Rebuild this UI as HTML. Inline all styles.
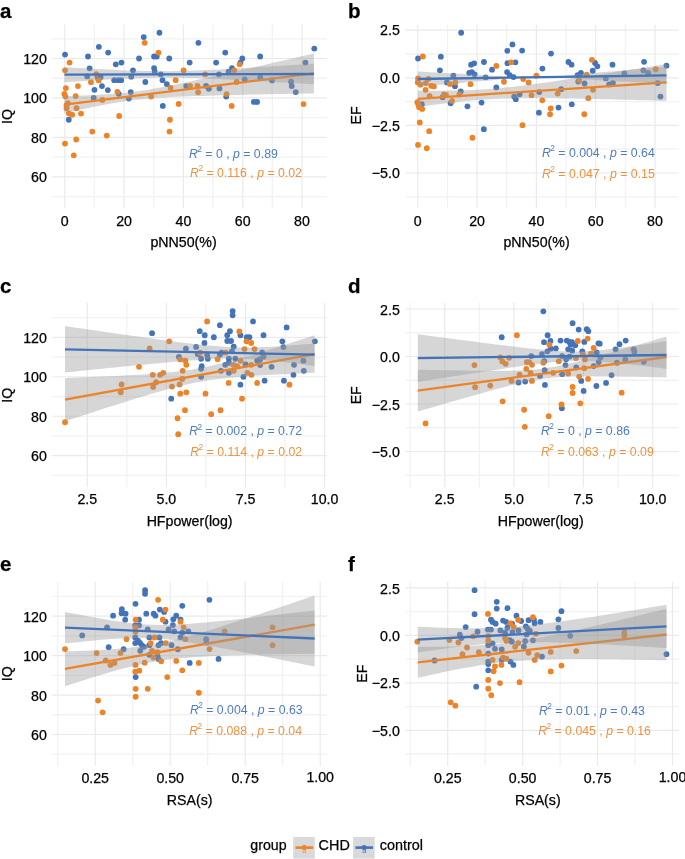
<!DOCTYPE html><html><head><meta charset="utf-8"><style>html,body{margin:0;padding:0;background:#fff;}svg{display:block;will-change:transform;}text{font-family:"Liberation Sans", sans-serif;stroke:#000;stroke-width:0.25px;}</style></head><body>
<svg width="685" height="859" viewBox="0 0 685 859">
<rect width="685" height="859" fill="#fff"/>
<line x1="52.30" x2="327.00" y1="196.60" y2="196.60" class="gm"/><line x1="52.30" x2="327.00" y1="157.15" y2="157.15" class="gm"/><line x1="52.30" x2="327.00" y1="117.70" y2="117.70" class="gm"/><line x1="52.30" x2="327.00" y1="78.25" y2="78.25" class="gm"/><line x1="52.30" x2="327.00" y1="38.80" y2="38.80" class="gm"/><line x1="94.45" x2="94.45" y1="24.50" y2="208.60" class="gm"/><line x1="153.75" x2="153.75" y1="24.50" y2="208.60" class="gm"/><line x1="213.05" x2="213.05" y1="24.50" y2="208.60" class="gm"/><line x1="272.35" x2="272.35" y1="24.50" y2="208.60" class="gm"/><line x1="52.30" x2="327.00" y1="176.88" y2="176.88" class="gM"/><line x1="52.30" x2="327.00" y1="137.43" y2="137.43" class="gM"/><line x1="52.30" x2="327.00" y1="97.97" y2="97.97" class="gM"/><line x1="52.30" x2="327.00" y1="58.52" y2="58.52" class="gM"/><line x1="64.80" x2="64.80" y1="24.50" y2="208.60" class="gM"/><line x1="124.10" x2="124.10" y1="24.50" y2="208.60" class="gM"/><line x1="183.40" x2="183.40" y1="24.50" y2="208.60" class="gM"/><line x1="242.70" x2="242.70" y1="24.50" y2="208.60" class="gM"/><line x1="302.00" x2="302.00" y1="24.50" y2="208.60" class="gM"/>
<text x="46.80" y="181.97" font-size="14.2" text-anchor="end">60</text>
<text x="46.80" y="142.53" font-size="14.2" text-anchor="end">80</text>
<text x="46.80" y="103.07" font-size="14.2" text-anchor="end">100</text>
<text x="46.80" y="63.62" font-size="14.2" text-anchor="end">120</text>
<text x="64.80" y="225.70" font-size="14.2" text-anchor="middle">0</text>
<text x="124.10" y="225.70" font-size="14.2" text-anchor="middle">20</text>
<text x="183.40" y="225.70" font-size="14.2" text-anchor="middle">40</text>
<text x="242.70" y="225.70" font-size="14.2" text-anchor="middle">60</text>
<text x="302.00" y="225.70" font-size="14.2" text-anchor="middle">80</text>
<text x="183.50" y="247.30" font-size="14.2" text-anchor="middle">pNN50(%)</text>
<text transform="translate(12.30,116.55) rotate(-90)" font-size="14.2" text-anchor="middle">IQ</text>
<text x="0.10" y="17.70" font-size="20.5" font-weight="bold">a</text>
<circle cx="65.03" cy="54.62" r="2.9" fill="#4373b9"/>
<circle cx="87.99" cy="56.5" r="2.9" fill="#4373b9"/>
<circle cx="98.87" cy="46.83" r="2.9" fill="#4373b9"/>
<circle cx="108.14" cy="52.61" r="2.9" fill="#4373b9"/>
<circle cx="115.8" cy="64.29" r="2.9" fill="#4373b9"/>
<circle cx="121.44" cy="62.55" r="2.9" fill="#4373b9"/>
<circle cx="139.03" cy="58.52" r="2.9" fill="#4373b9"/>
<circle cx="143.73" cy="37.03" r="2.9" fill="#4373b9"/>
<circle cx="89.61" cy="68.32" r="2.9" fill="#4373b9"/>
<circle cx="132.99" cy="70.34" r="2.9" fill="#4373b9"/>
<circle cx="87.19" cy="76.38" r="2.9" fill="#4373b9"/>
<circle cx="97.66" cy="76.65" r="2.9" fill="#4373b9"/>
<circle cx="100.62" cy="77.05" r="2.9" fill="#4373b9"/>
<circle cx="98.34" cy="79.07" r="2.9" fill="#4373b9"/>
<circle cx="114.18" cy="80.14" r="2.9" fill="#4373b9"/>
<circle cx="118.21" cy="80.14" r="2.9" fill="#4373b9"/>
<circle cx="121.17" cy="80.14" r="2.9" fill="#4373b9"/>
<circle cx="131.24" cy="76.65" r="2.9" fill="#4373b9"/>
<circle cx="101.96" cy="86.05" r="2.9" fill="#4373b9"/>
<circle cx="94.44" cy="89.81" r="2.9" fill="#4373b9"/>
<circle cx="107.87" cy="90.08" r="2.9" fill="#4373b9"/>
<circle cx="118.75" cy="93.84" r="2.9" fill="#4373b9"/>
<circle cx="130.7" cy="92.09" r="2.9" fill="#4373b9"/>
<circle cx="93.64" cy="97.87" r="2.9" fill="#4373b9"/>
<circle cx="128.82" cy="98.54" r="2.9" fill="#4373b9"/>
<circle cx="69.59" cy="62.55" r="2.9" fill="#ee8325"/>
<circle cx="65.03" cy="70.34" r="2.9" fill="#ee8325"/>
<circle cx="96.32" cy="74.1" r="2.9" fill="#ee8325"/>
<circle cx="98.74" cy="80.41" r="2.9" fill="#ee8325"/>
<circle cx="90.95" cy="82.15" r="2.9" fill="#ee8325"/>
<circle cx="77.92" cy="86.05" r="2.9" fill="#ee8325"/>
<circle cx="65.83" cy="88.06" r="2.9" fill="#ee8325"/>
<circle cx="64.36" cy="93.84" r="2.9" fill="#ee8325"/>
<circle cx="65.43" cy="96.53" r="2.9" fill="#ee8325"/>
<circle cx="75.64" cy="96.12" r="2.9" fill="#ee8325"/>
<circle cx="117.41" cy="91.82" r="2.9" fill="#ee8325"/>
<circle cx="102.36" cy="99.88" r="2.9" fill="#ee8325"/>
<circle cx="67.85" cy="103.24" r="2.9" fill="#ee8325"/>
<circle cx="66.51" cy="105.26" r="2.9" fill="#ee8325"/>
<circle cx="66.51" cy="108.21" r="2.9" fill="#ee8325"/>
<circle cx="76.58" cy="108.21" r="2.9" fill="#ee8325"/>
<circle cx="68.79" cy="113.31" r="2.9" fill="#ee8325"/>
<circle cx="72.15" cy="114.66" r="2.9" fill="#ee8325"/>
<circle cx="81.01" cy="113.58" r="2.9" fill="#ee8325"/>
<circle cx="159.45" cy="32.73" r="2.9" fill="#4373b9"/>
<circle cx="198.39" cy="42.8" r="2.9" fill="#4373b9"/>
<circle cx="225.26" cy="52.61" r="2.9" fill="#4373b9"/>
<circle cx="154.07" cy="56.5" r="2.9" fill="#4373b9"/>
<circle cx="156.76" cy="56.5" r="2.9" fill="#4373b9"/>
<circle cx="169.25" cy="58.52" r="2.9" fill="#4373b9"/>
<circle cx="189.66" cy="62.55" r="2.9" fill="#4373b9"/>
<circle cx="216.12" cy="62.55" r="2.9" fill="#4373b9"/>
<circle cx="154.07" cy="68.05" r="2.9" fill="#4373b9"/>
<circle cx="154.74" cy="71.68" r="2.9" fill="#4373b9"/>
<circle cx="160.79" cy="74.36" r="2.9" fill="#4373b9"/>
<circle cx="231.97" cy="68.05" r="2.9" fill="#4373b9"/>
<circle cx="228.61" cy="71.68" r="2.9" fill="#4373b9"/>
<circle cx="218.94" cy="74.36" r="2.9" fill="#4373b9"/>
<circle cx="145.34" cy="82.02" r="2.9" fill="#4373b9"/>
<circle cx="162.53" cy="80.14" r="2.9" fill="#4373b9"/>
<circle cx="166.83" cy="84.04" r="2.9" fill="#4373b9"/>
<circle cx="186.31" cy="86.05" r="2.9" fill="#4373b9"/>
<circle cx="206.05" cy="85.78" r="2.9" fill="#4373b9"/>
<circle cx="208.87" cy="88.74" r="2.9" fill="#4373b9"/>
<circle cx="219.48" cy="88.47" r="2.9" fill="#4373b9"/>
<circle cx="226.2" cy="96.53" r="2.9" fill="#4373b9"/>
<circle cx="162.8" cy="105.93" r="2.9" fill="#4373b9"/>
<circle cx="144.67" cy="42.8" r="2.9" fill="#ee8325"/>
<circle cx="158.51" cy="52.61" r="2.9" fill="#ee8325"/>
<circle cx="183.62" cy="70.34" r="2.9" fill="#ee8325"/>
<circle cx="205.11" cy="74.36" r="2.9" fill="#ee8325"/>
<circle cx="175.7" cy="80.14" r="2.9" fill="#ee8325"/>
<circle cx="170.59" cy="87.8" r="2.9" fill="#ee8325"/>
<circle cx="190.07" cy="85.78" r="2.9" fill="#ee8325"/>
<circle cx="197.45" cy="85.78" r="2.9" fill="#ee8325"/>
<circle cx="198.13" cy="92.23" r="2.9" fill="#ee8325"/>
<circle cx="226.6" cy="94.11" r="2.9" fill="#ee8325"/>
<circle cx="234.25" cy="70.34" r="2.9" fill="#ee8325"/>
<circle cx="151.12" cy="96.53" r="2.9" fill="#ee8325"/>
<circle cx="178.65" cy="103.91" r="2.9" fill="#ee8325"/>
<circle cx="231.7" cy="105.93" r="2.9" fill="#ee8325"/>
<circle cx="314.3" cy="48.58" r="2.9" fill="#4373b9"/>
<circle cx="260.18" cy="56.5" r="2.9" fill="#4373b9"/>
<circle cx="242.31" cy="58.52" r="2.9" fill="#4373b9"/>
<circle cx="240.43" cy="62.55" r="2.9" fill="#4373b9"/>
<circle cx="305.44" cy="62.55" r="2.9" fill="#4373b9"/>
<circle cx="244.73" cy="79.47" r="2.9" fill="#4373b9"/>
<circle cx="260.18" cy="77.45" r="2.9" fill="#4373b9"/>
<circle cx="271.99" cy="80.41" r="2.9" fill="#4373b9"/>
<circle cx="291.07" cy="81.75" r="2.9" fill="#4373b9"/>
<circle cx="291.74" cy="86.05" r="2.9" fill="#4373b9"/>
<circle cx="295.77" cy="92.09" r="2.9" fill="#4373b9"/>
<circle cx="253.86" cy="101.9" r="2.9" fill="#4373b9"/>
<circle cx="257.09" cy="101.9" r="2.9" fill="#4373b9"/>
<circle cx="239.63" cy="64.29" r="2.9" fill="#ee8325"/>
<circle cx="303.56" cy="104.05" r="2.9" fill="#ee8325"/>
<circle cx="236.67" cy="82.02" r="2.9" fill="#ee8325"/>
<circle cx="68.79" cy="119.76" r="2.9" fill="#4373b9"/>
<circle cx="119.15" cy="116.0" r="2.9" fill="#ee8325"/>
<circle cx="92.29" cy="131.58" r="2.9" fill="#ee8325"/>
<circle cx="106.8" cy="135.61" r="2.9" fill="#ee8325"/>
<circle cx="76.18" cy="139.5" r="2.9" fill="#ee8325"/>
<circle cx="65.03" cy="143.53" r="2.9" fill="#ee8325"/>
<circle cx="73.76" cy="155.35" r="2.9" fill="#ee8325"/>
<circle cx="169.92" cy="119.76" r="2.9" fill="#ee8325"/>
<circle cx="169.52" cy="131.58" r="2.9" fill="#ee8325"/>
<polygon points="64.50,96.14 70.73,95.94 76.97,95.72 83.20,95.49 89.44,95.23 95.67,94.94 101.91,94.61 108.14,94.23 114.38,93.79 120.61,93.26 126.85,92.65 133.08,91.92 139.32,91.09 145.56,90.15 151.79,89.11 158.02,88.00 164.26,86.82 170.49,85.59 176.73,84.32 182.96,83.02 189.20,81.69 195.44,80.35 201.67,78.99 207.91,77.61 214.14,76.23 220.37,74.84 226.61,73.44 232.84,72.03 239.08,70.62 245.31,69.20 251.55,67.78 257.78,66.36 264.02,64.94 270.25,63.51 276.49,62.08 282.73,60.65 288.96,59.22 295.19,57.78 301.43,56.35 307.66,54.91 313.90,53.47 313.90,93.33 307.66,93.45 301.43,93.57 295.19,93.70 288.96,93.82 282.73,93.95 276.49,94.08 270.25,94.21 264.02,94.34 257.78,94.48 251.55,94.62 245.31,94.76 239.08,94.90 232.84,95.05 226.61,95.20 220.37,95.36 214.14,95.53 207.91,95.71 201.67,95.89 195.44,96.09 189.20,96.31 182.96,96.54 176.73,96.80 170.49,97.09 164.26,97.42 158.02,97.80 151.79,98.25 145.56,98.77 139.32,99.39 133.08,100.12 126.85,100.95 120.61,101.90 114.38,102.93 108.14,104.05 101.91,105.23 95.67,106.46 89.44,107.73 83.20,109.03 76.97,110.36 70.73,111.70 64.50,113.06" fill="#999999" fill-opacity="0.4"/>
<line x1="64.5" y1="104.6" x2="313.9" y2="73.4" stroke="#ee8325" stroke-width="2.3"/>
<polygon points="64.50,67.25 70.73,67.60 76.97,67.95 83.20,68.29 89.44,68.63 95.67,68.96 101.91,69.27 108.14,69.58 114.38,69.87 120.61,70.14 126.85,70.39 133.08,70.62 139.32,70.82 145.56,70.98 151.79,71.10 158.02,71.17 164.26,71.19 170.49,71.16 176.73,71.07 182.96,70.94 189.20,70.76 195.44,70.55 201.67,70.30 207.91,70.02 214.14,69.72 220.37,69.41 226.61,69.07 232.84,68.72 239.08,68.37 245.31,68.00 251.55,67.63 257.78,67.25 264.02,66.86 270.25,66.47 276.49,66.08 282.73,65.68 288.96,65.28 295.19,64.87 301.43,64.47 307.66,64.06 313.90,63.65 313.90,84.35 307.66,83.98 301.43,83.60 295.19,83.23 288.96,82.86 282.73,82.50 276.49,82.13 270.25,81.77 264.02,81.42 257.78,81.07 251.55,80.72 245.31,80.38 239.08,80.05 232.84,79.73 226.61,79.42 220.37,79.12 214.14,78.84 207.91,78.57 201.67,78.33 195.44,78.12 189.20,77.94 182.96,77.79 176.73,77.70 170.49,77.65 164.26,77.65 158.02,77.71 151.79,77.81 145.56,77.97 139.32,78.16 133.08,78.39 126.85,78.66 120.61,78.94 114.38,79.25 108.14,79.58 101.91,79.92 95.67,80.27 89.44,80.63 83.20,81.00 76.97,81.38 70.73,81.76 64.50,82.15" fill="#999999" fill-opacity="0.4"/>
<line x1="64.5" y1="74.7" x2="313.9" y2="74.0" stroke="#4373b9" stroke-width="2.3"/>
<text x="189.0" y="157.7" font-size="12.3" class="cb"><tspan font-style="italic">R</tspan><tspan font-size="8.3" dx="-0.6" dy="-5.6">2</tspan><tspan dy="5.6"> = 0 , </tspan><tspan font-style="italic">p</tspan> = 0.89</text>
<text x="190.1" y="176.9" font-size="12.3" class="co"><tspan font-style="italic">R</tspan><tspan font-size="8.3" dx="-0.6" dy="-5.6">2</tspan><tspan dy="5.6"> = 0.116 , </tspan><tspan font-style="italic">p</tspan> = 0.02</text>
<line x1="405.30" x2="678.80" y1="196.80" y2="196.80" class="gm"/><line x1="405.30" x2="678.80" y1="149.20" y2="149.20" class="gm"/><line x1="405.30" x2="678.80" y1="101.60" y2="101.60" class="gm"/><line x1="405.30" x2="678.80" y1="54.00" y2="54.00" class="gm"/><line x1="447.45" x2="447.45" y1="24.50" y2="208.60" class="gm"/><line x1="506.75" x2="506.75" y1="24.50" y2="208.60" class="gm"/><line x1="566.05" x2="566.05" y1="24.50" y2="208.60" class="gm"/><line x1="625.35" x2="625.35" y1="24.50" y2="208.60" class="gm"/><line x1="405.30" x2="678.80" y1="173.00" y2="173.00" class="gM"/><line x1="405.30" x2="678.80" y1="125.40" y2="125.40" class="gM"/><line x1="405.30" x2="678.80" y1="77.80" y2="77.80" class="gM"/><line x1="405.30" x2="678.80" y1="30.20" y2="30.20" class="gM"/><line x1="417.80" x2="417.80" y1="24.50" y2="208.60" class="gM"/><line x1="477.10" x2="477.10" y1="24.50" y2="208.60" class="gM"/><line x1="536.40" x2="536.40" y1="24.50" y2="208.60" class="gM"/><line x1="595.70" x2="595.70" y1="24.50" y2="208.60" class="gM"/><line x1="655.00" x2="655.00" y1="24.50" y2="208.60" class="gM"/>
<text x="399.80" y="178.10" font-size="14.2" text-anchor="end">−5.0</text>
<text x="399.80" y="130.50" font-size="14.2" text-anchor="end">−2.5</text>
<text x="399.80" y="82.90" font-size="14.2" text-anchor="end">0.0</text>
<text x="399.80" y="35.30" font-size="14.2" text-anchor="end">2.5</text>
<text x="417.80" y="225.70" font-size="14.2" text-anchor="middle">0</text>
<text x="477.10" y="225.70" font-size="14.2" text-anchor="middle">20</text>
<text x="536.40" y="225.70" font-size="14.2" text-anchor="middle">40</text>
<text x="595.70" y="225.70" font-size="14.2" text-anchor="middle">60</text>
<text x="655.00" y="225.70" font-size="14.2" text-anchor="middle">80</text>
<text x="536.50" y="247.30" font-size="14.2" text-anchor="middle">pNN50(%)</text>
<text transform="translate(361.00,115.40) rotate(-90)" font-size="14.2" text-anchor="middle">EF</text>
<text x="348.00" y="17.70" font-size="20.5" font-weight="bold">b</text>
<circle cx="461.14" cy="32.73" r="2.9" fill="#4373b9"/>
<circle cx="418.03" cy="58.52" r="2.9" fill="#4373b9"/>
<circle cx="440.86" cy="56.64" r="2.9" fill="#4373b9"/>
<circle cx="471.08" cy="64.69" r="2.9" fill="#4373b9"/>
<circle cx="474.17" cy="63.35" r="2.9" fill="#4373b9"/>
<circle cx="483.97" cy="62.01" r="2.9" fill="#4373b9"/>
<circle cx="492.03" cy="69.66" r="2.9" fill="#4373b9"/>
<circle cx="439.92" cy="70.34" r="2.9" fill="#4373b9"/>
<circle cx="453.35" cy="75.71" r="2.9" fill="#4373b9"/>
<circle cx="469.2" cy="73.02" r="2.9" fill="#4373b9"/>
<circle cx="471.88" cy="72.08" r="2.9" fill="#4373b9"/>
<circle cx="474.57" cy="74.36" r="2.9" fill="#4373b9"/>
<circle cx="485.58" cy="77.32" r="2.9" fill="#4373b9"/>
<circle cx="446.9" cy="82.42" r="2.9" fill="#4373b9"/>
<circle cx="454.96" cy="86.18" r="2.9" fill="#4373b9"/>
<circle cx="496.33" cy="87.39" r="2.9" fill="#4373b9"/>
<circle cx="460.74" cy="91.42" r="2.9" fill="#4373b9"/>
<circle cx="481.55" cy="102.57" r="2.9" fill="#4373b9"/>
<circle cx="467.45" cy="106.33" r="2.9" fill="#4373b9"/>
<circle cx="450.66" cy="103.24" r="2.9" fill="#4373b9"/>
<circle cx="421.79" cy="104.18" r="2.9" fill="#4373b9"/>
<circle cx="442.61" cy="97.2" r="2.9" fill="#4373b9"/>
<circle cx="422.86" cy="56.5" r="2.9" fill="#ee8325"/>
<circle cx="496.33" cy="65.9" r="2.9" fill="#ee8325"/>
<circle cx="418.03" cy="78.39" r="2.9" fill="#ee8325"/>
<circle cx="428.5" cy="78.8" r="2.9" fill="#ee8325"/>
<circle cx="417.76" cy="82.42" r="2.9" fill="#ee8325"/>
<circle cx="420.45" cy="84.71" r="2.9" fill="#ee8325"/>
<circle cx="425.82" cy="83.09" r="2.9" fill="#ee8325"/>
<circle cx="431.19" cy="85.78" r="2.9" fill="#ee8325"/>
<circle cx="433.88" cy="86.45" r="2.9" fill="#ee8325"/>
<circle cx="425.55" cy="89.81" r="2.9" fill="#ee8325"/>
<circle cx="449.99" cy="84.04" r="2.9" fill="#ee8325"/>
<circle cx="455.36" cy="82.42" r="2.9" fill="#ee8325"/>
<circle cx="470.54" cy="84.17" r="2.9" fill="#ee8325"/>
<circle cx="429.58" cy="96.26" r="2.9" fill="#ee8325"/>
<circle cx="443.95" cy="94.51" r="2.9" fill="#ee8325"/>
<circle cx="445.96" cy="95.18" r="2.9" fill="#ee8325"/>
<circle cx="459.39" cy="94.51" r="2.9" fill="#ee8325"/>
<circle cx="452.01" cy="100.96" r="2.9" fill="#ee8325"/>
<circle cx="417.36" cy="102.17" r="2.9" fill="#ee8325"/>
<circle cx="418.43" cy="104.58" r="2.9" fill="#ee8325"/>
<circle cx="419.1" cy="107.27" r="2.9" fill="#ee8325"/>
<circle cx="422.19" cy="108.88" r="2.9" fill="#ee8325"/>
<circle cx="512.45" cy="44.41" r="2.9" fill="#4373b9"/>
<circle cx="507.34" cy="50.86" r="2.9" fill="#4373b9"/>
<circle cx="522.12" cy="50.59" r="2.9" fill="#4373b9"/>
<circle cx="550.99" cy="53.55" r="2.9" fill="#4373b9"/>
<circle cx="507.48" cy="63.22" r="2.9" fill="#4373b9"/>
<circle cx="515.4" cy="62.28" r="2.9" fill="#4373b9"/>
<circle cx="568.45" cy="62.01" r="2.9" fill="#4373b9"/>
<circle cx="571.54" cy="64.69" r="2.9" fill="#4373b9"/>
<circle cx="542.4" cy="68.59" r="2.9" fill="#4373b9"/>
<circle cx="507.07" cy="72.08" r="2.9" fill="#4373b9"/>
<circle cx="509.76" cy="75.04" r="2.9" fill="#4373b9"/>
<circle cx="513.52" cy="77.05" r="2.9" fill="#4373b9"/>
<circle cx="577.58" cy="75.04" r="2.9" fill="#4373b9"/>
<circle cx="580.94" cy="73.02" r="2.9" fill="#4373b9"/>
<circle cx="584.57" cy="83.5" r="2.9" fill="#4373b9"/>
<circle cx="561.2" cy="89.14" r="2.9" fill="#4373b9"/>
<circle cx="539.31" cy="92.09" r="2.9" fill="#4373b9"/>
<circle cx="519.56" cy="94.24" r="2.9" fill="#4373b9"/>
<circle cx="514.19" cy="96.53" r="2.9" fill="#4373b9"/>
<circle cx="515.8" cy="99.21" r="2.9" fill="#4373b9"/>
<circle cx="571.81" cy="104.32" r="2.9" fill="#4373b9"/>
<circle cx="558.51" cy="107.54" r="2.9" fill="#4373b9"/>
<circle cx="538.9" cy="112.64" r="2.9" fill="#4373b9"/>
<circle cx="578.26" cy="81.48" r="2.9" fill="#4373b9"/>
<circle cx="511.1" cy="62.28" r="2.9" fill="#ee8325"/>
<circle cx="536.35" cy="75.71" r="2.9" fill="#ee8325"/>
<circle cx="523.19" cy="79.07" r="2.9" fill="#ee8325"/>
<circle cx="528.56" cy="82.42" r="2.9" fill="#ee8325"/>
<circle cx="503.98" cy="81.75" r="2.9" fill="#ee8325"/>
<circle cx="579.2" cy="80.41" r="2.9" fill="#ee8325"/>
<circle cx="586.72" cy="74.77" r="2.9" fill="#ee8325"/>
<circle cx="531.52" cy="95.18" r="2.9" fill="#ee8325"/>
<circle cx="557.71" cy="93.57" r="2.9" fill="#ee8325"/>
<circle cx="542.26" cy="100.29" r="2.9" fill="#ee8325"/>
<circle cx="588.33" cy="98.14" r="2.9" fill="#ee8325"/>
<circle cx="550.72" cy="108.34" r="2.9" fill="#ee8325"/>
<circle cx="550.05" cy="114.25" r="2.9" fill="#ee8325"/>
<circle cx="584.3" cy="114.25" r="2.9" fill="#ee8325"/>
<circle cx="595.04" cy="62.95" r="2.9" fill="#4373b9"/>
<circle cx="597.33" cy="66.31" r="2.9" fill="#4373b9"/>
<circle cx="612.5" cy="64.69" r="2.9" fill="#4373b9"/>
<circle cx="644.07" cy="61.87" r="2.9" fill="#4373b9"/>
<circle cx="666.49" cy="65.64" r="2.9" fill="#4373b9"/>
<circle cx="592.76" cy="70.74" r="2.9" fill="#4373b9"/>
<circle cx="624.32" cy="73.42" r="2.9" fill="#4373b9"/>
<circle cx="643.39" cy="70.34" r="2.9" fill="#4373b9"/>
<circle cx="648.09" cy="73.02" r="2.9" fill="#4373b9"/>
<circle cx="605.79" cy="78.39" r="2.9" fill="#4373b9"/>
<circle cx="609.15" cy="84.44" r="2.9" fill="#4373b9"/>
<circle cx="612.91" cy="83.09" r="2.9" fill="#4373b9"/>
<circle cx="657.76" cy="83.09" r="2.9" fill="#4373b9"/>
<circle cx="660.45" cy="96.53" r="2.9" fill="#4373b9"/>
<circle cx="591.95" cy="59.86" r="2.9" fill="#ee8325"/>
<circle cx="655.75" cy="69.26" r="2.9" fill="#ee8325"/>
<circle cx="593.03" cy="89.81" r="2.9" fill="#ee8325"/>
<circle cx="483.84" cy="129.16" r="2.9" fill="#4373b9"/>
<circle cx="419.77" cy="122.45" r="2.9" fill="#ee8325"/>
<circle cx="429.18" cy="131.18" r="2.9" fill="#ee8325"/>
<circle cx="472.42" cy="137.76" r="2.9" fill="#ee8325"/>
<circle cx="418.03" cy="144.88" r="2.9" fill="#ee8325"/>
<circle cx="426.76" cy="148.23" r="2.9" fill="#ee8325"/>
<circle cx="522.52" cy="125.13" r="2.9" fill="#ee8325"/>
<polygon points="417.80,90.60 424.02,90.65 430.24,90.69 436.45,90.69 442.67,90.67 448.89,90.62 455.11,90.52 461.32,90.38 467.54,90.18 473.76,89.92 479.98,89.59 486.19,89.19 492.41,88.72 498.63,88.18 504.85,87.58 511.06,86.92 517.28,86.22 523.50,85.46 529.72,84.67 535.93,83.85 542.15,83.01 548.37,82.14 554.59,81.26 560.80,80.36 567.02,79.44 573.24,78.52 579.46,77.59 585.67,76.64 591.89,75.70 598.11,74.74 604.33,73.78 610.54,72.82 616.76,71.85 622.98,70.88 629.19,69.90 635.41,68.92 641.63,67.94 647.85,66.96 654.07,65.98 660.28,64.99 666.50,64.00 666.50,100.80 660.28,100.63 654.07,100.46 647.85,100.30 641.63,100.14 635.41,99.98 629.19,99.82 622.98,99.66 616.76,99.51 610.54,99.36 604.33,99.22 598.11,99.08 591.89,98.94 585.67,98.82 579.46,98.69 573.24,98.58 567.02,98.48 560.80,98.38 554.59,98.30 548.37,98.24 542.15,98.19 535.93,98.17 529.72,98.17 523.50,98.20 517.28,98.26 511.06,98.38 504.85,98.54 498.63,98.76 492.41,99.04 486.19,99.39 479.98,99.81 473.76,100.30 467.54,100.86 461.32,101.48 455.11,102.16 448.89,102.88 442.67,103.65 436.45,104.45 430.24,105.27 424.02,106.13 417.80,107.00" fill="#999999" fill-opacity="0.4"/>
<line x1="417.8" y1="98.8" x2="666.5" y2="82.4" stroke="#ee8325" stroke-width="2.3"/>
<polygon points="417.80,71.50 424.02,71.83 430.24,72.15 436.45,72.48 442.67,72.81 448.89,73.14 455.11,73.48 461.32,73.81 467.54,74.16 473.76,74.51 479.98,74.86 486.19,75.23 492.41,75.63 498.63,76.06 504.85,76.58 511.06,77.51 517.28,77.42 523.50,77.33 529.72,77.23 535.93,77.14 542.15,77.05 548.37,76.96 554.59,76.87 560.80,76.26 567.02,75.39 573.24,74.73 579.46,74.13 585.67,73.56 591.89,73.01 598.11,72.48 604.33,71.95 610.54,71.42 616.76,70.90 622.98,70.38 629.19,69.86 635.41,69.35 641.63,68.84 647.85,68.33 654.07,67.82 660.28,67.31 666.50,66.80 666.50,83.80 660.28,83.48 654.07,83.15 647.85,82.83 641.63,82.50 635.41,82.18 629.19,81.85 622.98,81.52 616.76,81.18 610.54,80.85 604.33,80.50 598.11,80.16 591.89,79.81 585.67,79.44 579.46,79.06 573.24,78.65 567.02,78.17 560.80,77.48 554.59,77.06 548.37,77.16 542.15,77.25 535.93,77.34 529.72,77.43 523.50,77.53 517.28,77.62 511.06,77.71 504.85,78.83 498.63,79.54 492.41,80.15 486.19,80.73 479.98,81.29 473.76,81.83 467.54,82.36 461.32,82.89 455.11,83.41 448.89,83.93 442.67,84.45 436.45,84.97 430.24,85.48 424.02,85.99 417.80,86.50" fill="#999999" fill-opacity="0.4"/>
<line x1="417.8" y1="79.0" x2="666.5" y2="75.3" stroke="#4373b9" stroke-width="2.3"/>
<text x="542.0" y="156.6" font-size="12.3" class="cb"><tspan font-style="italic">R</tspan><tspan font-size="8.3" dx="-0.6" dy="-5.6">2</tspan><tspan dy="5.6"> = 0.004 , </tspan><tspan font-style="italic">p</tspan> = 0.64</text>
<text x="542.0" y="177.6" font-size="12.3" class="co"><tspan font-style="italic">R</tspan><tspan font-size="8.3" dx="-0.6" dy="-5.6">2</tspan><tspan dy="5.6"> = 0.047 , </tspan><tspan font-style="italic">p</tspan> = 0.15</text>
<line x1="52.30" x2="327.00" y1="475.40" y2="475.40" class="gm"/><line x1="52.30" x2="327.00" y1="435.95" y2="435.95" class="gm"/><line x1="52.30" x2="327.00" y1="396.50" y2="396.50" class="gm"/><line x1="52.30" x2="327.00" y1="357.05" y2="357.05" class="gm"/><line x1="52.30" x2="327.00" y1="317.60" y2="317.60" class="gm"/><line x1="126.84" x2="126.84" y1="303.10" y2="487.20" class="gm"/><line x1="205.96" x2="205.96" y1="303.10" y2="487.20" class="gm"/><line x1="285.09" x2="285.09" y1="303.10" y2="487.20" class="gm"/><line x1="52.30" x2="327.00" y1="455.68" y2="455.68" class="gM"/><line x1="52.30" x2="327.00" y1="416.23" y2="416.23" class="gM"/><line x1="52.30" x2="327.00" y1="376.77" y2="376.77" class="gM"/><line x1="52.30" x2="327.00" y1="337.32" y2="337.32" class="gM"/><line x1="87.28" x2="87.28" y1="303.10" y2="487.20" class="gM"/><line x1="166.40" x2="166.40" y1="303.10" y2="487.20" class="gM"/><line x1="245.53" x2="245.53" y1="303.10" y2="487.20" class="gM"/><line x1="324.65" x2="324.65" y1="303.10" y2="487.20" class="gM"/>
<text x="46.80" y="461.28" font-size="14.2" text-anchor="end">60</text>
<text x="46.80" y="421.83" font-size="14.2" text-anchor="end">80</text>
<text x="46.80" y="382.38" font-size="14.2" text-anchor="end">100</text>
<text x="46.80" y="342.93" font-size="14.2" text-anchor="end">120</text>
<text x="87.28" y="504.30" font-size="14.2" text-anchor="middle">2.5</text>
<text x="166.40" y="504.30" font-size="14.2" text-anchor="middle">5.0</text>
<text x="245.53" y="504.30" font-size="14.2" text-anchor="middle">7.5</text>
<text x="324.65" y="504.30" font-size="14.2" text-anchor="middle">10.0</text>
<text x="189.60" y="525.90" font-size="14.2" text-anchor="middle">HFpower(log)</text>
<text transform="translate(12.30,395.15) rotate(-90)" font-size="14.2" text-anchor="middle">IQ</text>
<text x="0.10" y="293.30" font-size="20.5" font-weight="bold">c</text>
<circle cx="139.03" cy="366.8" r="2.9" fill="#ee8325"/>
<circle cx="121.57" cy="384.52" r="2.9" fill="#ee8325"/>
<circle cx="120.76" cy="392.31" r="2.9" fill="#ee8325"/>
<circle cx="152.06" cy="333.22" r="2.9" fill="#4373b9"/>
<circle cx="199.74" cy="331.2" r="2.9" fill="#4373b9"/>
<circle cx="204.71" cy="335.23" r="2.9" fill="#4373b9"/>
<circle cx="204.44" cy="343.02" r="2.9" fill="#4373b9"/>
<circle cx="213.84" cy="337.25" r="2.9" fill="#4373b9"/>
<circle cx="219.88" cy="325.16" r="2.9" fill="#4373b9"/>
<circle cx="229.96" cy="331.2" r="2.9" fill="#4373b9"/>
<circle cx="227.27" cy="335.23" r="2.9" fill="#4373b9"/>
<circle cx="227.27" cy="341.01" r="2.9" fill="#4373b9"/>
<circle cx="231.03" cy="341.01" r="2.9" fill="#4373b9"/>
<circle cx="232.64" cy="311.06" r="2.9" fill="#4373b9"/>
<circle cx="232.64" cy="315.36" r="2.9" fill="#4373b9"/>
<circle cx="233.72" cy="346.65" r="2.9" fill="#4373b9"/>
<circle cx="185.9" cy="348.66" r="2.9" fill="#4373b9"/>
<circle cx="196.11" cy="346.92" r="2.9" fill="#4373b9"/>
<circle cx="178.92" cy="356.99" r="2.9" fill="#4373b9"/>
<circle cx="197.72" cy="354.04" r="2.9" fill="#4373b9"/>
<circle cx="201.08" cy="358.74" r="2.9" fill="#4373b9"/>
<circle cx="207.8" cy="358.74" r="2.9" fill="#4373b9"/>
<circle cx="207.12" cy="354.71" r="2.9" fill="#4373b9"/>
<circle cx="219.88" cy="354.71" r="2.9" fill="#4373b9"/>
<circle cx="221.63" cy="352.69" r="2.9" fill="#4373b9"/>
<circle cx="228.88" cy="358.74" r="2.9" fill="#4373b9"/>
<circle cx="235.33" cy="358.74" r="2.9" fill="#4373b9"/>
<circle cx="231.97" cy="351.35" r="2.9" fill="#4373b9"/>
<circle cx="201.75" cy="366.12" r="2.9" fill="#4373b9"/>
<circle cx="201.08" cy="368.81" r="2.9" fill="#4373b9"/>
<circle cx="225.26" cy="364.78" r="2.9" fill="#4373b9"/>
<circle cx="228.88" cy="362.77" r="2.9" fill="#4373b9"/>
<circle cx="220.96" cy="370.82" r="2.9" fill="#4373b9"/>
<circle cx="228.88" cy="372.84" r="2.9" fill="#4373b9"/>
<circle cx="201.08" cy="376.87" r="2.9" fill="#4373b9"/>
<circle cx="207.12" cy="321.4" r="2.9" fill="#ee8325"/>
<circle cx="169.25" cy="341.28" r="2.9" fill="#ee8325"/>
<circle cx="149.64" cy="348.4" r="2.9" fill="#ee8325"/>
<circle cx="200.14" cy="352.69" r="2.9" fill="#ee8325"/>
<circle cx="225.66" cy="352.69" r="2.9" fill="#ee8325"/>
<circle cx="180.26" cy="359.41" r="2.9" fill="#ee8325"/>
<circle cx="185.37" cy="360.75" r="2.9" fill="#ee8325"/>
<circle cx="186.31" cy="364.78" r="2.9" fill="#ee8325"/>
<circle cx="217.6" cy="359.14" r="2.9" fill="#ee8325"/>
<circle cx="182.68" cy="370.82" r="2.9" fill="#ee8325"/>
<circle cx="152.73" cy="374.85" r="2.9" fill="#ee8325"/>
<circle cx="160.12" cy="374.85" r="2.9" fill="#ee8325"/>
<circle cx="163.21" cy="372.84" r="2.9" fill="#ee8325"/>
<circle cx="182.28" cy="378.88" r="2.9" fill="#ee8325"/>
<circle cx="156.09" cy="382.24" r="2.9" fill="#ee8325"/>
<circle cx="153.13" cy="386.94" r="2.9" fill="#ee8325"/>
<circle cx="171.94" cy="386.54" r="2.9" fill="#ee8325"/>
<circle cx="179.59" cy="384.52" r="2.9" fill="#ee8325"/>
<circle cx="233.31" cy="364.78" r="2.9" fill="#ee8325"/>
<circle cx="233.72" cy="370.82" r="2.9" fill="#ee8325"/>
<circle cx="228.61" cy="382.91" r="2.9" fill="#ee8325"/>
<circle cx="180.26" cy="393.66" r="2.9" fill="#ee8325"/>
<circle cx="186.31" cy="392.31" r="2.9" fill="#ee8325"/>
<circle cx="205.51" cy="393.66" r="2.9" fill="#ee8325"/>
<circle cx="253.06" cy="321.4" r="2.9" fill="#4373b9"/>
<circle cx="286.63" cy="327.44" r="2.9" fill="#4373b9"/>
<circle cx="263.53" cy="335.23" r="2.9" fill="#4373b9"/>
<circle cx="240.43" cy="335.23" r="2.9" fill="#4373b9"/>
<circle cx="246.74" cy="337.25" r="2.9" fill="#4373b9"/>
<circle cx="249.43" cy="337.25" r="2.9" fill="#4373b9"/>
<circle cx="282.34" cy="341.28" r="2.9" fill="#4373b9"/>
<circle cx="314.84" cy="341.28" r="2.9" fill="#4373b9"/>
<circle cx="283.41" cy="347.05" r="2.9" fill="#4373b9"/>
<circle cx="262.19" cy="352.42" r="2.9" fill="#4373b9"/>
<circle cx="263.53" cy="356.72" r="2.9" fill="#4373b9"/>
<circle cx="260.18" cy="359.14" r="2.9" fill="#4373b9"/>
<circle cx="257.09" cy="360.75" r="2.9" fill="#4373b9"/>
<circle cx="245.67" cy="364.51" r="2.9" fill="#4373b9"/>
<circle cx="260.18" cy="365.05" r="2.9" fill="#4373b9"/>
<circle cx="271.59" cy="366.8" r="2.9" fill="#4373b9"/>
<circle cx="294.02" cy="364.78" r="2.9" fill="#4373b9"/>
<circle cx="303.42" cy="360.75" r="2.9" fill="#4373b9"/>
<circle cx="303.82" cy="370.82" r="2.9" fill="#4373b9"/>
<circle cx="293.48" cy="374.85" r="2.9" fill="#4373b9"/>
<circle cx="243.39" cy="376.87" r="2.9" fill="#4373b9"/>
<circle cx="264.61" cy="380.63" r="2.9" fill="#4373b9"/>
<circle cx="283.95" cy="380.63" r="2.9" fill="#4373b9"/>
<circle cx="240.43" cy="384.66" r="2.9" fill="#4373b9"/>
<circle cx="239.36" cy="331.47" r="2.9" fill="#ee8325"/>
<circle cx="246.48" cy="341.28" r="2.9" fill="#ee8325"/>
<circle cx="251.18" cy="343.02" r="2.9" fill="#ee8325"/>
<circle cx="244.46" cy="349.07" r="2.9" fill="#ee8325"/>
<circle cx="254.53" cy="349.07" r="2.9" fill="#ee8325"/>
<circle cx="240.7" cy="360.75" r="2.9" fill="#ee8325"/>
<circle cx="251.18" cy="364.78" r="2.9" fill="#ee8325"/>
<circle cx="237.07" cy="366.12" r="2.9" fill="#ee8325"/>
<circle cx="247.42" cy="372.84" r="2.9" fill="#ee8325"/>
<circle cx="251.45" cy="374.85" r="2.9" fill="#ee8325"/>
<circle cx="257.09" cy="382.91" r="2.9" fill="#ee8325"/>
<circle cx="289.45" cy="384.66" r="2.9" fill="#ee8325"/>
<circle cx="65.03" cy="422.26" r="2.9" fill="#ee8325"/>
<circle cx="171.26" cy="398.63" r="2.9" fill="#4373b9"/>
<circle cx="184.96" cy="410.18" r="2.9" fill="#ee8325"/>
<circle cx="220.55" cy="410.18" r="2.9" fill="#ee8325"/>
<circle cx="211.15" cy="414.21" r="2.9" fill="#ee8325"/>
<circle cx="177.58" cy="418.24" r="2.9" fill="#ee8325"/>
<circle cx="178.25" cy="434.22" r="2.9" fill="#ee8325"/>
<circle cx="242.04" cy="398.63" r="2.9" fill="#ee8325"/>
<polygon points="65.00,378.11 71.24,377.87 77.48,377.62 83.72,377.37 89.96,377.11 96.20,376.84 102.44,376.57 108.68,376.28 114.92,375.99 121.16,375.68 127.40,375.35 133.64,375.00 139.88,374.64 146.12,374.24 152.36,373.81 158.60,373.33 164.84,372.80 171.08,372.20 177.32,371.53 183.56,370.76 189.80,369.88 196.04,368.87 202.28,367.74 208.52,366.47 214.76,365.08 221.00,363.58 227.24,361.98 233.48,360.30 239.72,358.55 245.96,356.74 252.20,354.90 258.44,353.01 264.68,351.10 270.92,349.16 277.16,347.20 283.40,345.23 289.64,343.24 295.88,341.24 302.12,339.23 308.36,337.22 314.60,335.19 314.60,372.81 308.36,373.07 302.12,373.34 295.88,373.61 289.64,373.90 283.40,374.19 277.16,374.51 270.92,374.83 264.68,375.18 258.44,375.55 252.20,375.95 245.96,376.39 239.72,376.87 233.48,377.41 227.24,378.01 221.00,378.70 214.76,379.48 208.52,380.37 202.28,381.39 196.04,382.54 189.80,383.82 183.56,385.23 177.32,386.74 171.08,388.35 164.84,390.04 158.60,391.80 152.36,393.60 146.12,395.46 139.88,397.34 133.64,399.26 127.40,401.20 121.16,403.16 114.92,405.13 108.68,407.12 102.44,409.12 96.20,411.13 89.96,413.15 83.72,415.18 77.48,417.21 71.24,419.25 65.00,421.29" fill="#999999" fill-opacity="0.4"/>
<line x1="65.0" y1="399.7" x2="314.6" y2="354.0" stroke="#ee8325" stroke-width="2.3"/>
<polygon points="65.00,326.06 71.24,326.98 77.48,327.89 83.72,328.80 89.96,329.71 96.20,330.62 102.44,331.52 108.68,332.42 114.92,333.32 121.16,334.21 127.40,335.10 133.64,335.98 139.88,336.85 146.12,337.72 152.36,338.58 158.60,339.43 164.84,340.26 171.08,341.09 177.32,341.89 183.56,342.67 189.80,343.42 196.04,344.14 202.28,344.82 208.52,345.44 214.76,346.01 221.00,346.49 227.24,346.89 233.48,347.19 239.72,347.38 245.96,347.45 252.20,347.41 258.44,347.28 264.68,347.05 270.92,346.75 277.16,346.39 283.40,345.98 289.64,345.53 295.88,345.04 302.12,344.53 308.36,344.00 314.60,343.44 314.60,365.96 308.36,365.13 302.12,364.33 295.88,363.55 289.64,362.79 283.40,362.07 277.16,361.39 270.92,360.76 264.68,360.19 258.44,359.69 252.20,359.29 245.96,358.98 239.72,358.78 233.48,358.70 227.24,358.73 221.00,358.86 214.76,359.07 208.52,359.37 202.28,359.72 196.04,360.13 189.80,360.58 183.56,361.06 177.32,361.57 171.08,362.10 164.84,362.66 158.60,363.22 152.36,363.80 146.12,364.39 139.88,364.99 133.64,365.59 127.40,366.20 121.16,366.82 114.92,367.44 108.68,368.07 102.44,368.70 96.20,369.33 89.96,369.97 83.72,370.61 77.48,371.25 71.24,371.89 65.00,372.54" fill="#999999" fill-opacity="0.4"/>
<line x1="65.0" y1="349.3" x2="314.6" y2="354.7" stroke="#4373b9" stroke-width="2.3"/>
<text x="189.3" y="435.3" font-size="12.3" class="cb"><tspan font-style="italic">R</tspan><tspan font-size="8.3" dx="-0.6" dy="-5.6">2</tspan><tspan dy="5.6"> = 0.002 , </tspan><tspan font-style="italic">p</tspan> = 0.72</text>
<text x="190.3" y="455.7" font-size="12.3" class="co"><tspan font-style="italic">R</tspan><tspan font-size="8.3" dx="-0.6" dy="-5.6">2</tspan><tspan dy="5.6"> = 0.114 , </tspan><tspan font-style="italic">p</tspan> = 0.02</text>
<line x1="405.30" x2="678.80" y1="475.25" y2="475.25" class="gm"/><line x1="405.30" x2="678.80" y1="427.75" y2="427.75" class="gm"/><line x1="405.30" x2="678.80" y1="380.25" y2="380.25" class="gm"/><line x1="405.30" x2="678.80" y1="332.75" y2="332.75" class="gm"/><line x1="410.06" x2="410.06" y1="303.10" y2="487.20" class="gm"/><line x1="479.39" x2="479.39" y1="303.10" y2="487.20" class="gm"/><line x1="548.71" x2="548.71" y1="303.10" y2="487.20" class="gm"/><line x1="618.04" x2="618.04" y1="303.10" y2="487.20" class="gm"/><line x1="405.30" x2="678.80" y1="451.50" y2="451.50" class="gM"/><line x1="405.30" x2="678.80" y1="404.00" y2="404.00" class="gM"/><line x1="405.30" x2="678.80" y1="356.50" y2="356.50" class="gM"/><line x1="405.30" x2="678.80" y1="309.00" y2="309.00" class="gM"/><line x1="444.72" x2="444.72" y1="303.10" y2="487.20" class="gM"/><line x1="514.05" x2="514.05" y1="303.10" y2="487.20" class="gM"/><line x1="583.38" x2="583.38" y1="303.10" y2="487.20" class="gM"/><line x1="652.70" x2="652.70" y1="303.10" y2="487.20" class="gM"/>
<text x="399.80" y="457.10" font-size="14.2" text-anchor="end">−5.0</text>
<text x="399.80" y="409.60" font-size="14.2" text-anchor="end">−2.5</text>
<text x="399.80" y="362.10" font-size="14.2" text-anchor="end">0.0</text>
<text x="399.80" y="314.60" font-size="14.2" text-anchor="end">2.5</text>
<text x="444.72" y="504.30" font-size="14.2" text-anchor="middle">2.5</text>
<text x="514.05" y="504.30" font-size="14.2" text-anchor="middle">5.0</text>
<text x="583.38" y="504.30" font-size="14.2" text-anchor="middle">7.5</text>
<text x="652.70" y="504.30" font-size="14.2" text-anchor="middle">10.0</text>
<text x="540.70" y="525.90" font-size="14.2" text-anchor="middle">HFpower(log)</text>
<text transform="translate(361.30,395.30) rotate(-90)" font-size="14.2" text-anchor="middle">EF</text>
<text x="348.00" y="293.30" font-size="20.5" font-weight="bold">d</text>
<circle cx="474.44" cy="365.05" r="2.9" fill="#ee8325"/>
<circle cx="475.11" cy="387.21" r="2.9" fill="#ee8325"/>
<circle cx="490.28" cy="385.6" r="2.9" fill="#ee8325"/>
<circle cx="543.34" cy="311.33" r="2.9" fill="#4373b9"/>
<circle cx="572.61" cy="323.15" r="2.9" fill="#4373b9"/>
<circle cx="578.66" cy="329.59" r="2.9" fill="#4373b9"/>
<circle cx="586.72" cy="329.19" r="2.9" fill="#4373b9"/>
<circle cx="588.33" cy="331.2" r="2.9" fill="#4373b9"/>
<circle cx="501.7" cy="337.25" r="2.9" fill="#4373b9"/>
<circle cx="547.63" cy="335.23" r="2.9" fill="#4373b9"/>
<circle cx="550.45" cy="341.01" r="2.9" fill="#4373b9"/>
<circle cx="544.01" cy="342.22" r="2.9" fill="#4373b9"/>
<circle cx="560.53" cy="340.61" r="2.9" fill="#4373b9"/>
<circle cx="566.84" cy="340.61" r="2.9" fill="#4373b9"/>
<circle cx="569.53" cy="341.95" r="2.9" fill="#4373b9"/>
<circle cx="571.94" cy="342.22" r="2.9" fill="#4373b9"/>
<circle cx="570.6" cy="344.64" r="2.9" fill="#4373b9"/>
<circle cx="575.3" cy="345.31" r="2.9" fill="#4373b9"/>
<circle cx="584.3" cy="341.95" r="2.9" fill="#4373b9"/>
<circle cx="550.72" cy="348.66" r="2.9" fill="#4373b9"/>
<circle cx="555.83" cy="348.4" r="2.9" fill="#4373b9"/>
<circle cx="547.36" cy="351.35" r="2.9" fill="#4373b9"/>
<circle cx="568.18" cy="349.34" r="2.9" fill="#4373b9"/>
<circle cx="572.21" cy="350.68" r="2.9" fill="#4373b9"/>
<circle cx="582.28" cy="351.35" r="2.9" fill="#4373b9"/>
<circle cx="531.25" cy="356.05" r="2.9" fill="#4373b9"/>
<circle cx="541.99" cy="354.04" r="2.9" fill="#4373b9"/>
<circle cx="562.14" cy="356.05" r="2.9" fill="#4373b9"/>
<circle cx="566.17" cy="359.14" r="2.9" fill="#4373b9"/>
<circle cx="569.53" cy="356.72" r="2.9" fill="#4373b9"/>
<circle cx="544.28" cy="361.15" r="2.9" fill="#4373b9"/>
<circle cx="565.5" cy="365.05" r="2.9" fill="#4373b9"/>
<circle cx="576.24" cy="367.47" r="2.9" fill="#4373b9"/>
<circle cx="544.68" cy="370.15" r="2.9" fill="#4373b9"/>
<circle cx="562.14" cy="374.18" r="2.9" fill="#4373b9"/>
<circle cx="539.98" cy="375.93" r="2.9" fill="#4373b9"/>
<circle cx="518.49" cy="382.51" r="2.9" fill="#4373b9"/>
<circle cx="525.2" cy="381.57" r="2.9" fill="#4373b9"/>
<circle cx="581.21" cy="380.9" r="2.9" fill="#4373b9"/>
<circle cx="544.95" cy="384.93" r="2.9" fill="#4373b9"/>
<circle cx="583.63" cy="390.97" r="2.9" fill="#4373b9"/>
<circle cx="516.88" cy="335.23" r="2.9" fill="#ee8325"/>
<circle cx="577.85" cy="341.01" r="2.9" fill="#ee8325"/>
<circle cx="587.66" cy="338.59" r="2.9" fill="#ee8325"/>
<circle cx="549.38" cy="344.64" r="2.9" fill="#ee8325"/>
<circle cx="500.36" cy="357.39" r="2.9" fill="#ee8325"/>
<circle cx="509.09" cy="357.8" r="2.9" fill="#ee8325"/>
<circle cx="502.37" cy="361.42" r="2.9" fill="#ee8325"/>
<circle cx="505.73" cy="363.84" r="2.9" fill="#ee8325"/>
<circle cx="526.82" cy="362.09" r="2.9" fill="#ee8325"/>
<circle cx="529.23" cy="362.09" r="2.9" fill="#ee8325"/>
<circle cx="531.92" cy="364.78" r="2.9" fill="#ee8325"/>
<circle cx="543.34" cy="362.77" r="2.9" fill="#ee8325"/>
<circle cx="558.78" cy="361.15" r="2.9" fill="#ee8325"/>
<circle cx="575.97" cy="358.07" r="2.9" fill="#ee8325"/>
<circle cx="582.96" cy="354.71" r="2.9" fill="#ee8325"/>
<circle cx="584.97" cy="359.41" r="2.9" fill="#ee8325"/>
<circle cx="526.28" cy="368.81" r="2.9" fill="#ee8325"/>
<circle cx="584.3" cy="368.14" r="2.9" fill="#ee8325"/>
<circle cx="519.56" cy="374.59" r="2.9" fill="#ee8325"/>
<circle cx="530.58" cy="372.84" r="2.9" fill="#ee8325"/>
<circle cx="553.14" cy="372.84" r="2.9" fill="#ee8325"/>
<circle cx="568.18" cy="373.51" r="2.9" fill="#ee8325"/>
<circle cx="511.51" cy="380.9" r="2.9" fill="#ee8325"/>
<circle cx="531.92" cy="380.9" r="2.9" fill="#ee8325"/>
<circle cx="579.2" cy="376.6" r="2.9" fill="#ee8325"/>
<circle cx="588.06" cy="378.88" r="2.9" fill="#ee8325"/>
<circle cx="572.61" cy="386.94" r="2.9" fill="#ee8325"/>
<circle cx="572.61" cy="392.99" r="2.9" fill="#ee8325"/>
<circle cx="598.4" cy="343.29" r="2.9" fill="#4373b9"/>
<circle cx="599.74" cy="343.69" r="2.9" fill="#4373b9"/>
<circle cx="619.49" cy="344.23" r="2.9" fill="#4373b9"/>
<circle cx="625.67" cy="340.61" r="2.9" fill="#4373b9"/>
<circle cx="615.59" cy="349.34" r="2.9" fill="#4373b9"/>
<circle cx="633.72" cy="349.34" r="2.9" fill="#4373b9"/>
<circle cx="634.4" cy="352.02" r="2.9" fill="#4373b9"/>
<circle cx="596.66" cy="352.42" r="2.9" fill="#4373b9"/>
<circle cx="600.42" cy="357.39" r="2.9" fill="#4373b9"/>
<circle cx="598.67" cy="362.09" r="2.9" fill="#4373b9"/>
<circle cx="593.7" cy="366.12" r="2.9" fill="#4373b9"/>
<circle cx="616.94" cy="362.77" r="2.9" fill="#4373b9"/>
<circle cx="625.26" cy="359.41" r="2.9" fill="#4373b9"/>
<circle cx="643.8" cy="361.83" r="2.9" fill="#4373b9"/>
<circle cx="611.56" cy="375.12" r="2.9" fill="#4373b9"/>
<circle cx="606.06" cy="382.91" r="2.9" fill="#4373b9"/>
<circle cx="596.39" cy="386.0" r="2.9" fill="#4373b9"/>
<circle cx="593.7" cy="347.99" r="2.9" fill="#ee8325"/>
<circle cx="591.01" cy="353.77" r="2.9" fill="#ee8325"/>
<circle cx="621.64" cy="392.72" r="2.9" fill="#ee8325"/>
<circle cx="425.55" cy="423.47" r="2.9" fill="#ee8325"/>
<circle cx="561.87" cy="408.16" r="2.9" fill="#4373b9"/>
<circle cx="502.64" cy="401.31" r="2.9" fill="#ee8325"/>
<circle cx="524.13" cy="409.77" r="2.9" fill="#ee8325"/>
<circle cx="548.71" cy="416.22" r="2.9" fill="#ee8325"/>
<circle cx="524.8" cy="426.83" r="2.9" fill="#ee8325"/>
<circle cx="561.47" cy="404.4" r="2.9" fill="#ee8325"/>
<circle cx="580.27" cy="403.33" r="2.9" fill="#ee8325"/>
<polygon points="417.80,369.63 424.02,369.76 430.24,369.89 436.45,370.02 442.67,370.14 448.89,370.25 455.11,370.36 461.32,370.47 467.54,370.56 473.76,370.64 479.98,370.71 486.19,370.76 492.41,370.79 498.63,370.79 504.85,370.75 511.06,370.67 517.28,370.51 523.50,370.27 529.72,369.91 535.93,369.39 542.15,368.70 548.37,367.82 554.59,366.74 560.80,365.49 567.02,364.11 573.24,362.63 579.46,361.07 585.67,359.45 591.89,357.79 598.11,356.09 604.33,354.37 610.54,352.63 616.76,350.88 622.98,349.11 629.19,347.33 635.41,345.55 641.63,343.75 647.85,341.96 654.07,340.15 660.28,338.34 666.50,336.53 666.50,377.47 660.28,377.34 654.07,377.21 647.85,377.08 641.63,376.97 635.41,376.85 629.19,376.75 622.98,376.65 616.76,376.56 610.54,376.49 604.33,376.43 598.11,376.39 591.89,376.37 585.67,376.39 579.46,376.45 573.24,376.57 567.02,376.77 560.80,377.07 554.59,377.50 548.37,378.10 542.15,378.90 535.93,379.89 529.72,381.05 523.50,382.37 517.28,383.81 511.06,385.33 504.85,386.93 498.63,388.57 492.41,390.25 486.19,391.96 479.98,393.69 473.76,395.44 467.54,397.20 461.32,398.97 455.11,400.76 448.89,402.55 442.67,404.34 436.45,406.14 430.24,407.95 424.02,409.76 417.80,411.57" fill="#999999" fill-opacity="0.4"/>
<line x1="417.8" y1="390.6" x2="666.5" y2="357.0" stroke="#ee8325" stroke-width="2.3"/>
<polygon points="417.80,334.30 424.02,335.11 430.24,335.93 436.45,336.75 442.67,337.56 448.89,338.37 455.11,339.18 461.32,339.99 467.54,340.79 473.76,341.59 479.98,342.38 486.19,343.17 492.41,343.96 498.63,344.73 504.85,345.50 511.06,346.25 517.28,347.00 523.50,347.72 529.72,348.42 535.93,349.09 542.15,349.72 548.37,350.30 554.59,350.80 560.80,351.21 567.02,351.49 573.24,351.61 579.46,351.55 585.67,351.31 591.89,350.91 598.11,350.37 604.33,349.73 610.54,349.01 616.76,348.24 622.98,347.42 629.19,346.57 635.41,345.69 641.63,344.80 647.85,343.89 654.07,342.97 660.28,342.04 666.50,341.10 666.50,368.90 660.28,368.11 654.07,367.34 647.85,366.57 641.63,365.82 635.41,365.08 629.19,364.36 622.98,363.67 616.76,363.00 610.54,362.38 604.33,361.82 598.11,361.33 591.89,360.95 585.67,360.71 579.46,360.62 573.24,360.72 567.02,360.99 560.80,361.43 554.59,361.99 548.37,362.65 542.15,363.38 535.93,364.16 529.72,364.99 523.50,365.84 517.28,366.72 511.06,367.62 504.85,368.53 498.63,369.45 492.41,370.38 486.19,371.32 479.98,372.27 473.76,373.22 467.54,374.17 461.32,375.13 455.11,376.09 448.89,377.05 442.67,378.02 436.45,378.99 430.24,379.96 424.02,380.93 417.80,381.90" fill="#999999" fill-opacity="0.4"/>
<line x1="417.8" y1="358.1" x2="666.5" y2="355.0" stroke="#4373b9" stroke-width="2.3"/>
<text x="541.0" y="435.0" font-size="12.3" class="cb"><tspan font-style="italic">R</tspan><tspan font-size="8.3" dx="-0.6" dy="-5.6">2</tspan><tspan dy="5.6"> = 0 , </tspan><tspan font-style="italic">p</tspan> = 0.86</text>
<text x="541.0" y="455.7" font-size="12.3" class="co"><tspan font-style="italic">R</tspan><tspan font-size="8.3" dx="-0.6" dy="-5.6">2</tspan><tspan dy="5.6"> = 0.063 , </tspan><tspan font-style="italic">p</tspan> = 0.09</text>
<line x1="52.30" x2="327.00" y1="754.20" y2="754.20" class="gm"/><line x1="52.30" x2="327.00" y1="714.75" y2="714.75" class="gm"/><line x1="52.30" x2="327.00" y1="675.30" y2="675.30" class="gm"/><line x1="52.30" x2="327.00" y1="635.85" y2="635.85" class="gm"/><line x1="52.30" x2="327.00" y1="596.40" y2="596.40" class="gm"/><line x1="57.70" x2="57.70" y1="581.70" y2="765.80" class="gm"/><line x1="132.70" x2="132.70" y1="581.70" y2="765.80" class="gm"/><line x1="207.70" x2="207.70" y1="581.70" y2="765.80" class="gm"/><line x1="282.70" x2="282.70" y1="581.70" y2="765.80" class="gm"/><line x1="52.30" x2="327.00" y1="734.48" y2="734.48" class="gM"/><line x1="52.30" x2="327.00" y1="695.03" y2="695.03" class="gM"/><line x1="52.30" x2="327.00" y1="655.58" y2="655.58" class="gM"/><line x1="52.30" x2="327.00" y1="616.12" y2="616.12" class="gM"/><line x1="95.20" x2="95.20" y1="581.70" y2="765.80" class="gM"/><line x1="170.20" x2="170.20" y1="581.70" y2="765.80" class="gM"/><line x1="245.20" x2="245.20" y1="581.70" y2="765.80" class="gM"/><line x1="320.20" x2="320.20" y1="581.70" y2="765.80" class="gM"/>
<text x="46.80" y="740.08" font-size="14.2" text-anchor="end">60</text>
<text x="46.80" y="700.63" font-size="14.2" text-anchor="end">80</text>
<text x="46.80" y="661.18" font-size="14.2" text-anchor="end">100</text>
<text x="46.80" y="621.73" font-size="14.2" text-anchor="end">120</text>
<text x="95.20" y="782.90" font-size="14.2" text-anchor="middle">0.25</text>
<text x="170.20" y="782.90" font-size="14.2" text-anchor="middle">0.50</text>
<text x="245.20" y="782.90" font-size="14.2" text-anchor="middle">0.75</text>
<text x="320.20" y="782.00" font-size="14.2" text-anchor="middle">1.00</text>
<text x="189.60" y="804.50" font-size="14.2" text-anchor="middle">RSA(s)</text>
<text transform="translate(12.30,673.75) rotate(-90)" font-size="14.2" text-anchor="middle">IQ</text>
<text x="0.10" y="571.10" font-size="20.5" font-weight="bold">e</text>
<circle cx="135.54" cy="603.83" r="2.9" fill="#4373b9"/>
<circle cx="121.84" cy="609.2" r="2.9" fill="#4373b9"/>
<circle cx="121.57" cy="613.23" r="2.9" fill="#4373b9"/>
<circle cx="125.6" cy="613.64" r="2.9" fill="#4373b9"/>
<circle cx="113.11" cy="615.65" r="2.9" fill="#4373b9"/>
<circle cx="125.2" cy="619.68" r="2.9" fill="#4373b9"/>
<circle cx="139.03" cy="619.68" r="2.9" fill="#4373b9"/>
<circle cx="139.03" cy="625.32" r="2.9" fill="#4373b9"/>
<circle cx="135.27" cy="625.32" r="2.9" fill="#4373b9"/>
<circle cx="107.07" cy="627.34" r="2.9" fill="#4373b9"/>
<circle cx="82.22" cy="635.39" r="2.9" fill="#4373b9"/>
<circle cx="135.27" cy="637.41" r="2.9" fill="#4373b9"/>
<circle cx="137.96" cy="640.77" r="2.9" fill="#4373b9"/>
<circle cx="135.27" cy="643.05" r="2.9" fill="#4373b9"/>
<circle cx="139.97" cy="642.78" r="2.9" fill="#4373b9"/>
<circle cx="141.99" cy="645.47" r="2.9" fill="#4373b9"/>
<circle cx="108.68" cy="647.21" r="2.9" fill="#4373b9"/>
<circle cx="123.59" cy="649.23" r="2.9" fill="#4373b9"/>
<circle cx="140.24" cy="650.84" r="2.9" fill="#4373b9"/>
<circle cx="135.67" cy="619.68" r="2.9" fill="#ee8325"/>
<circle cx="135.54" cy="627.34" r="2.9" fill="#ee8325"/>
<circle cx="135.54" cy="631.77" r="2.9" fill="#ee8325"/>
<circle cx="126.54" cy="639.15" r="2.9" fill="#ee8325"/>
<circle cx="65.03" cy="649.09" r="2.9" fill="#ee8325"/>
<circle cx="96.59" cy="653.12" r="2.9" fill="#ee8325"/>
<circle cx="120.5" cy="653.12" r="2.9" fill="#ee8325"/>
<circle cx="105.72" cy="660.51" r="2.9" fill="#ee8325"/>
<circle cx="110.42" cy="664.94" r="2.9" fill="#ee8325"/>
<circle cx="114.45" cy="662.93" r="2.9" fill="#ee8325"/>
<circle cx="135.54" cy="664.94" r="2.9" fill="#ee8325"/>
<circle cx="135.27" cy="671.66" r="2.9" fill="#ee8325"/>
<circle cx="139.3" cy="670.72" r="2.9" fill="#ee8325"/>
<circle cx="145.07" cy="590.13" r="2.9" fill="#4373b9"/>
<circle cx="145.07" cy="593.76" r="2.9" fill="#4373b9"/>
<circle cx="209.41" cy="599.8" r="2.9" fill="#4373b9"/>
<circle cx="182.28" cy="605.85" r="2.9" fill="#4373b9"/>
<circle cx="146.28" cy="613.64" r="2.9" fill="#4373b9"/>
<circle cx="159.85" cy="609.61" r="2.9" fill="#4373b9"/>
<circle cx="164.15" cy="611.89" r="2.9" fill="#4373b9"/>
<circle cx="153.67" cy="613.64" r="2.9" fill="#4373b9"/>
<circle cx="155.42" cy="615.65" r="2.9" fill="#4373b9"/>
<circle cx="176.23" cy="615.65" r="2.9" fill="#4373b9"/>
<circle cx="173.28" cy="619.28" r="2.9" fill="#4373b9"/>
<circle cx="180.53" cy="619.68" r="2.9" fill="#4373b9"/>
<circle cx="165.49" cy="621.69" r="2.9" fill="#4373b9"/>
<circle cx="172.88" cy="625.05" r="2.9" fill="#4373b9"/>
<circle cx="147.76" cy="629.35" r="2.9" fill="#4373b9"/>
<circle cx="168.58" cy="629.35" r="2.9" fill="#4373b9"/>
<circle cx="174.22" cy="631.36" r="2.9" fill="#4373b9"/>
<circle cx="182.28" cy="632.71" r="2.9" fill="#4373b9"/>
<circle cx="188.32" cy="631.36" r="2.9" fill="#4373b9"/>
<circle cx="149.37" cy="637.41" r="2.9" fill="#4373b9"/>
<circle cx="159.45" cy="637.41" r="2.9" fill="#4373b9"/>
<circle cx="180.53" cy="637.14" r="2.9" fill="#4373b9"/>
<circle cx="206.18" cy="639.15" r="2.9" fill="#4373b9"/>
<circle cx="206.45" cy="642.51" r="2.9" fill="#4373b9"/>
<circle cx="144.0" cy="646.81" r="2.9" fill="#4373b9"/>
<circle cx="149.37" cy="645.2" r="2.9" fill="#4373b9"/>
<circle cx="158.51" cy="645.2" r="2.9" fill="#4373b9"/>
<circle cx="161.19" cy="643.05" r="2.9" fill="#4373b9"/>
<circle cx="171.53" cy="645.2" r="2.9" fill="#4373b9"/>
<circle cx="177.85" cy="649.23" r="2.9" fill="#4373b9"/>
<circle cx="149.37" cy="654.87" r="2.9" fill="#4373b9"/>
<circle cx="157.43" cy="655.54" r="2.9" fill="#4373b9"/>
<circle cx="158.51" cy="658.9" r="2.9" fill="#4373b9"/>
<circle cx="218.54" cy="658.9" r="2.9" fill="#4373b9"/>
<circle cx="189.66" cy="662.93" r="2.9" fill="#4373b9"/>
<circle cx="158.1" cy="599.8" r="2.9" fill="#ee8325"/>
<circle cx="165.49" cy="609.61" r="2.9" fill="#ee8325"/>
<circle cx="162.8" cy="619.68" r="2.9" fill="#ee8325"/>
<circle cx="180.53" cy="621.69" r="2.9" fill="#ee8325"/>
<circle cx="183.62" cy="627.34" r="2.9" fill="#ee8325"/>
<circle cx="224.58" cy="631.36" r="2.9" fill="#ee8325"/>
<circle cx="154.48" cy="637.41" r="2.9" fill="#ee8325"/>
<circle cx="185.37" cy="639.15" r="2.9" fill="#ee8325"/>
<circle cx="150.72" cy="643.05" r="2.9" fill="#ee8325"/>
<circle cx="165.76" cy="643.05" r="2.9" fill="#ee8325"/>
<circle cx="209.54" cy="649.09" r="2.9" fill="#ee8325"/>
<circle cx="152.06" cy="650.84" r="2.9" fill="#ee8325"/>
<circle cx="157.43" cy="652.18" r="2.9" fill="#ee8325"/>
<circle cx="153.4" cy="657.55" r="2.9" fill="#ee8325"/>
<circle cx="161.19" cy="661.18" r="2.9" fill="#ee8325"/>
<circle cx="176.23" cy="660.91" r="2.9" fill="#ee8325"/>
<circle cx="198.8" cy="662.93" r="2.9" fill="#ee8325"/>
<circle cx="144.67" cy="662.66" r="2.9" fill="#ee8325"/>
<circle cx="182.28" cy="670.31" r="2.9" fill="#ee8325"/>
<circle cx="272.53" cy="627.34" r="2.9" fill="#ee8325"/>
<circle cx="272.53" cy="645.2" r="2.9" fill="#ee8325"/>
<circle cx="135.67" cy="677.03" r="2.9" fill="#4373b9"/>
<circle cx="135.67" cy="688.85" r="2.9" fill="#ee8325"/>
<circle cx="135.67" cy="696.77" r="2.9" fill="#ee8325"/>
<circle cx="98.07" cy="700.53" r="2.9" fill="#ee8325"/>
<circle cx="102.63" cy="712.35" r="2.9" fill="#ee8325"/>
<circle cx="147.76" cy="688.85" r="2.9" fill="#ee8325"/>
<circle cx="167.24" cy="677.03" r="2.9" fill="#ee8325"/>
<circle cx="198.8" cy="692.74" r="2.9" fill="#ee8325"/>
<polygon points="65.00,651.36 71.24,651.18 77.48,650.97 83.72,650.75 89.96,650.50 96.20,650.21 102.44,649.88 108.68,649.51 114.92,649.08 121.16,648.59 127.40,648.01 133.64,647.34 139.88,646.56 146.12,645.66 152.36,644.63 158.60,643.47 164.84,642.18 171.08,640.77 177.32,639.25 183.56,637.63 189.80,635.93 196.04,634.16 202.28,632.33 208.52,630.46 214.76,628.54 221.00,626.59 227.24,624.61 233.48,622.60 239.72,620.58 245.96,618.54 252.20,616.49 258.44,614.42 264.68,612.34 270.92,610.25 277.16,608.16 283.40,606.06 289.64,603.95 295.88,601.83 302.12,599.71 308.36,597.59 314.60,595.46 314.60,653.74 308.36,653.82 302.12,653.91 295.88,654.00 289.64,654.09 283.40,654.19 277.16,654.30 270.92,654.42 264.68,654.54 258.44,654.67 252.20,654.81 245.96,654.97 239.72,655.14 233.48,655.33 227.24,655.53 221.00,655.76 214.76,656.02 208.52,656.31 202.28,656.65 196.04,657.03 189.80,657.47 183.56,657.98 177.32,658.57 171.08,659.26 164.84,660.06 158.60,660.98 152.36,662.03 146.12,663.21 139.88,664.52 133.64,665.95 127.40,667.49 121.16,669.12 114.92,670.84 108.68,672.62 102.44,674.46 96.20,676.34 89.96,678.26 83.72,680.22 77.48,682.21 71.24,684.21 65.00,686.24" fill="#999999" fill-opacity="0.4"/>
<line x1="65.0" y1="668.8" x2="314.6" y2="624.6" stroke="#ee8325" stroke-width="2.3"/>
<polygon points="65.00,611.93 71.24,613.13 77.48,614.32 83.72,615.49 89.96,616.64 96.20,617.76 102.44,618.85 108.68,619.90 114.92,620.89 121.16,621.81 127.40,622.65 133.64,623.39 139.88,624.00 146.12,624.47 152.36,624.78 158.60,624.93 164.84,624.92 171.08,624.79 177.32,624.53 183.56,624.19 189.80,623.77 196.04,623.29 202.28,622.76 208.52,622.19 214.76,621.60 221.00,620.98 227.24,620.33 233.48,619.68 239.72,619.01 245.96,618.33 252.20,617.63 258.44,616.93 264.68,616.23 270.92,615.52 277.16,614.80 283.40,614.08 289.64,613.35 295.88,612.62 302.12,611.89 308.36,611.15 314.60,610.41 314.60,666.59 308.36,665.31 302.12,664.03 295.88,662.76 289.64,661.49 283.40,660.22 277.16,658.96 270.92,657.70 264.68,656.45 258.44,655.21 252.20,653.97 245.96,652.73 239.72,651.51 233.48,650.30 227.24,649.11 221.00,647.92 214.76,646.76 208.52,645.63 202.28,644.52 196.04,643.45 189.80,642.43 183.56,641.47 177.32,640.59 171.08,639.79 164.84,639.12 158.60,638.57 152.36,638.18 146.12,637.95 139.88,637.88 133.64,637.95 127.40,638.15 121.16,638.45 114.92,638.83 108.68,639.28 102.44,639.79 96.20,640.34 89.96,640.92 83.72,641.53 77.48,642.16 71.24,642.81 65.00,643.47" fill="#999999" fill-opacity="0.4"/>
<line x1="65.0" y1="627.7" x2="314.6" y2="638.5" stroke="#4373b9" stroke-width="2.3"/>
<text x="189.9" y="714.0" font-size="12.3" class="cb"><tspan font-style="italic">R</tspan><tspan font-size="8.3" dx="-0.6" dy="-5.6">2</tspan><tspan dy="5.6"> = 0.004 , </tspan><tspan font-style="italic">p</tspan> = 0.63</text>
<text x="189.3" y="734.5" font-size="12.3" class="co"><tspan font-style="italic">R</tspan><tspan font-size="8.3" dx="-0.6" dy="-5.6">2</tspan><tspan dy="5.6"> = 0.088 , </tspan><tspan font-style="italic">p</tspan> = 0.04</text>
<line x1="405.30" x2="678.80" y1="754.02" y2="754.02" class="gm"/><line x1="405.30" x2="678.80" y1="706.57" y2="706.57" class="gm"/><line x1="405.30" x2="678.80" y1="659.12" y2="659.12" class="gm"/><line x1="405.30" x2="678.80" y1="611.67" y2="611.67" class="gm"/><line x1="410.26" x2="410.26" y1="581.70" y2="765.80" class="gm"/><line x1="485.19" x2="485.19" y1="581.70" y2="765.80" class="gm"/><line x1="560.11" x2="560.11" y1="581.70" y2="765.80" class="gm"/><line x1="635.04" x2="635.04" y1="581.70" y2="765.80" class="gm"/><line x1="405.30" x2="678.80" y1="730.30" y2="730.30" class="gM"/><line x1="405.30" x2="678.80" y1="682.85" y2="682.85" class="gM"/><line x1="405.30" x2="678.80" y1="635.40" y2="635.40" class="gM"/><line x1="405.30" x2="678.80" y1="587.95" y2="587.95" class="gM"/><line x1="447.73" x2="447.73" y1="581.70" y2="765.80" class="gM"/><line x1="522.65" x2="522.65" y1="581.70" y2="765.80" class="gM"/><line x1="597.58" x2="597.58" y1="581.70" y2="765.80" class="gM"/><line x1="672.50" x2="672.50" y1="581.70" y2="765.80" class="gM"/>
<text x="399.80" y="735.90" font-size="14.2" text-anchor="end">−5.0</text>
<text x="399.80" y="688.45" font-size="14.2" text-anchor="end">−2.5</text>
<text x="399.80" y="641.00" font-size="14.2" text-anchor="end">0.0</text>
<text x="399.80" y="593.55" font-size="14.2" text-anchor="end">2.5</text>
<text x="447.73" y="782.90" font-size="14.2" text-anchor="middle">0.25</text>
<text x="522.65" y="782.90" font-size="14.2" text-anchor="middle">0.50</text>
<text x="597.58" y="782.90" font-size="14.2" text-anchor="middle">0.75</text>
<text x="672.50" y="782.00" font-size="14.2" text-anchor="middle">1.00</text>
<text x="537.80" y="804.50" font-size="14.2" text-anchor="middle">RSA(s)</text>
<text transform="translate(367.10,673.70) rotate(-90)" font-size="14.2" text-anchor="middle">EF</text>
<text x="348.00" y="571.10" font-size="20.5" font-weight="bold">f</text>
<circle cx="474.57" cy="590.13" r="2.9" fill="#4373b9"/>
<circle cx="496.73" cy="601.82" r="2.9" fill="#4373b9"/>
<circle cx="496.73" cy="608.53" r="2.9" fill="#4373b9"/>
<circle cx="474.57" cy="614.17" r="2.9" fill="#4373b9"/>
<circle cx="490.96" cy="619.68" r="2.9" fill="#4373b9"/>
<circle cx="492.57" cy="621.96" r="2.9" fill="#4373b9"/>
<circle cx="495.66" cy="623.71" r="2.9" fill="#4373b9"/>
<circle cx="465.71" cy="627.07" r="2.9" fill="#4373b9"/>
<circle cx="487.87" cy="629.62" r="2.9" fill="#4373b9"/>
<circle cx="490.96" cy="629.62" r="2.9" fill="#4373b9"/>
<circle cx="477.53" cy="631.77" r="2.9" fill="#4373b9"/>
<circle cx="459.8" cy="634.72" r="2.9" fill="#4373b9"/>
<circle cx="461.41" cy="638.08" r="2.9" fill="#4373b9"/>
<circle cx="488.27" cy="645.2" r="2.9" fill="#4373b9"/>
<circle cx="492.57" cy="643.45" r="2.9" fill="#4373b9"/>
<circle cx="494.99" cy="648.82" r="2.9" fill="#4373b9"/>
<circle cx="488.27" cy="653.53" r="2.9" fill="#4373b9"/>
<circle cx="434.55" cy="660.51" r="2.9" fill="#4373b9"/>
<circle cx="488.27" cy="661.58" r="2.9" fill="#4373b9"/>
<circle cx="488.27" cy="664.0" r="2.9" fill="#4373b9"/>
<circle cx="488.27" cy="670.31" r="2.9" fill="#4373b9"/>
<circle cx="488.0" cy="613.91" r="2.9" fill="#ee8325"/>
<circle cx="417.36" cy="641.71" r="2.9" fill="#ee8325"/>
<circle cx="449.32" cy="640.09" r="2.9" fill="#ee8325"/>
<circle cx="458.45" cy="642.51" r="2.9" fill="#ee8325"/>
<circle cx="473.23" cy="636.33" r="2.9" fill="#ee8325"/>
<circle cx="488.27" cy="636.07" r="2.9" fill="#ee8325"/>
<circle cx="488.27" cy="640.77" r="2.9" fill="#ee8325"/>
<circle cx="467.05" cy="647.48" r="2.9" fill="#ee8325"/>
<circle cx="462.48" cy="654.2" r="2.9" fill="#ee8325"/>
<circle cx="478.87" cy="652.18" r="2.9" fill="#ee8325"/>
<circle cx="492.57" cy="659.97" r="2.9" fill="#ee8325"/>
<circle cx="494.99" cy="666.28" r="2.9" fill="#ee8325"/>
<circle cx="493.64" cy="671.25" r="2.9" fill="#ee8325"/>
<circle cx="507.48" cy="608.13" r="2.9" fill="#4373b9"/>
<circle cx="561.47" cy="611.22" r="2.9" fill="#4373b9"/>
<circle cx="516.47" cy="615.65" r="2.9" fill="#4373b9"/>
<circle cx="558.38" cy="619.28" r="2.9" fill="#4373b9"/>
<circle cx="503.04" cy="620.62" r="2.9" fill="#4373b9"/>
<circle cx="506.13" cy="621.96" r="2.9" fill="#4373b9"/>
<circle cx="512.04" cy="623.71" r="2.9" fill="#4373b9"/>
<circle cx="521.18" cy="621.02" r="2.9" fill="#4373b9"/>
<circle cx="528.56" cy="620.22" r="2.9" fill="#4373b9"/>
<circle cx="533.93" cy="619.68" r="2.9" fill="#4373b9"/>
<circle cx="534.61" cy="623.31" r="2.9" fill="#4373b9"/>
<circle cx="540.38" cy="621.96" r="2.9" fill="#4373b9"/>
<circle cx="507.48" cy="627.74" r="2.9" fill="#4373b9"/>
<circle cx="525.88" cy="626.4" r="2.9" fill="#4373b9"/>
<circle cx="500.36" cy="630.42" r="2.9" fill="#4373b9"/>
<circle cx="505.06" cy="632.71" r="2.9" fill="#4373b9"/>
<circle cx="512.45" cy="632.04" r="2.9" fill="#4373b9"/>
<circle cx="518.49" cy="630.42" r="2.9" fill="#4373b9"/>
<circle cx="529.91" cy="630.96" r="2.9" fill="#4373b9"/>
<circle cx="527.62" cy="628.68" r="2.9" fill="#4373b9"/>
<circle cx="526.55" cy="634.45" r="2.9" fill="#4373b9"/>
<circle cx="558.38" cy="628.01" r="2.9" fill="#4373b9"/>
<circle cx="570.2" cy="635.8" r="2.9" fill="#4373b9"/>
<circle cx="509.76" cy="640.09" r="2.9" fill="#4373b9"/>
<circle cx="511.77" cy="641.71" r="2.9" fill="#4373b9"/>
<circle cx="525.2" cy="641.04" r="2.9" fill="#4373b9"/>
<circle cx="532.99" cy="640.36" r="2.9" fill="#4373b9"/>
<circle cx="523.86" cy="646.54" r="2.9" fill="#4373b9"/>
<circle cx="501.7" cy="649.5" r="2.9" fill="#4373b9"/>
<circle cx="541.99" cy="656.61" r="2.9" fill="#4373b9"/>
<circle cx="501.7" cy="659.97" r="2.9" fill="#4373b9"/>
<circle cx="510.43" cy="661.58" r="2.9" fill="#4373b9"/>
<circle cx="513.39" cy="664.94" r="2.9" fill="#4373b9"/>
<circle cx="532.99" cy="617.26" r="2.9" fill="#ee8325"/>
<circle cx="518.22" cy="619.95" r="2.9" fill="#ee8325"/>
<circle cx="510.43" cy="623.31" r="2.9" fill="#ee8325"/>
<circle cx="513.79" cy="627.07" r="2.9" fill="#ee8325"/>
<circle cx="535.95" cy="633.78" r="2.9" fill="#ee8325"/>
<circle cx="505.06" cy="638.08" r="2.9" fill="#ee8325"/>
<circle cx="506.4" cy="640.77" r="2.9" fill="#ee8325"/>
<circle cx="518.22" cy="643.05" r="2.9" fill="#ee8325"/>
<circle cx="515.13" cy="646.81" r="2.9" fill="#ee8325"/>
<circle cx="528.56" cy="652.85" r="2.9" fill="#ee8325"/>
<circle cx="537.29" cy="655.27" r="2.9" fill="#ee8325"/>
<circle cx="550.72" cy="651.91" r="2.9" fill="#ee8325"/>
<circle cx="576.24" cy="651.11" r="2.9" fill="#ee8325"/>
<circle cx="503.04" cy="657.55" r="2.9" fill="#ee8325"/>
<circle cx="506.4" cy="658.63" r="2.9" fill="#ee8325"/>
<circle cx="534.61" cy="659.97" r="2.9" fill="#ee8325"/>
<circle cx="501.43" cy="664.94" r="2.9" fill="#ee8325"/>
<circle cx="561.47" cy="665.61" r="2.9" fill="#ee8325"/>
<circle cx="550.72" cy="671.39" r="2.9" fill="#ee8325"/>
<circle cx="666.49" cy="654.2" r="2.9" fill="#4373b9"/>
<circle cx="624.32" cy="632.31" r="2.9" fill="#ee8325"/>
<circle cx="624.32" cy="635.39" r="2.9" fill="#ee8325"/>
<circle cx="476.18" cy="686.7" r="2.9" fill="#4373b9"/>
<circle cx="488.27" cy="679.98" r="2.9" fill="#ee8325"/>
<circle cx="488.27" cy="688.71" r="2.9" fill="#ee8325"/>
<circle cx="491.22" cy="695.16" r="2.9" fill="#ee8325"/>
<circle cx="450.66" cy="702.28" r="2.9" fill="#ee8325"/>
<circle cx="455.36" cy="705.64" r="2.9" fill="#ee8325"/>
<circle cx="499.95" cy="683.07" r="2.9" fill="#ee8325"/>
<circle cx="519.56" cy="682.13" r="2.9" fill="#ee8325"/>
<polygon points="417.80,646.80 424.02,646.81 430.24,646.80 436.45,646.76 442.67,646.69 448.89,646.59 455.11,646.44 461.32,646.25 467.54,646.01 473.76,645.70 479.98,645.33 486.19,644.89 492.41,644.36 498.63,643.75 504.85,643.06 511.06,642.28 517.28,641.41 523.50,640.47 529.72,639.45 535.93,638.36 542.15,637.22 548.37,636.02 554.59,634.77 560.80,633.49 567.02,632.17 573.24,630.81 579.46,629.44 585.67,628.04 591.89,626.61 598.11,625.17 604.33,623.72 610.54,622.25 616.76,620.77 622.98,619.29 629.19,617.79 635.41,616.28 641.63,614.77 647.85,613.24 654.07,611.72 660.28,610.19 666.50,608.65 666.50,660.35 660.28,660.20 654.07,660.06 647.85,659.93 641.63,659.79 635.41,659.67 629.19,659.55 622.98,659.44 616.76,659.35 610.54,659.26 604.33,659.18 598.11,659.12 591.89,659.07 585.67,659.03 579.46,659.02 573.24,659.04 567.02,659.07 560.80,659.14 554.59,659.25 548.37,659.39 542.15,659.58 535.93,659.83 529.72,660.13 523.50,660.50 517.28,660.95 511.06,661.47 504.85,662.08 498.63,662.78 492.41,663.56 486.19,664.42 479.98,665.37 473.76,666.39 467.54,667.47 461.32,668.62 455.11,669.82 448.89,671.06 442.67,672.35 436.45,673.67 430.24,675.02 424.02,676.40 417.80,677.80" fill="#999999" fill-opacity="0.4"/>
<line x1="417.8" y1="662.3" x2="666.5" y2="634.5" stroke="#ee8325" stroke-width="2.3"/>
<polygon points="417.80,626.85 424.02,627.12 430.24,627.37 436.45,627.60 442.67,627.80 448.89,627.98 455.11,628.12 461.32,628.22 467.54,628.28 473.76,628.28 479.98,628.23 486.19,628.11 492.41,627.93 498.63,627.67 504.85,627.33 511.06,626.93 517.28,626.44 523.50,625.89 529.72,625.28 535.93,624.61 542.15,623.88 548.37,623.12 554.59,622.31 560.80,621.47 567.02,620.60 573.24,619.70 579.46,618.79 585.67,617.85 591.89,616.90 598.11,615.93 604.33,614.96 610.54,613.97 616.76,612.97 622.98,611.96 629.19,610.95 635.41,609.93 641.63,608.90 647.85,607.87 654.07,606.83 660.28,605.79 666.50,604.75 666.50,648.05 660.28,647.67 654.07,647.30 647.85,646.93 641.63,646.56 635.41,646.20 629.19,645.84 622.98,645.49 616.76,645.15 610.54,644.82 604.33,644.49 598.11,644.18 591.89,643.88 585.67,643.59 579.46,643.32 573.24,643.07 567.02,642.84 560.80,642.64 554.59,642.46 548.37,642.32 542.15,642.22 535.93,642.16 529.72,642.15 523.50,642.20 517.28,642.32 511.06,642.50 504.85,642.76 498.63,643.09 492.41,643.49 486.19,643.97 479.98,644.52 473.76,645.13 467.54,645.80 461.32,646.52 455.11,647.29 448.89,648.10 442.67,648.94 436.45,649.80 430.24,650.70 424.02,651.62 417.80,652.55" fill="#999999" fill-opacity="0.4"/>
<line x1="417.8" y1="639.7" x2="666.5" y2="626.4" stroke="#4373b9" stroke-width="2.3"/>
<text x="538.9" y="714.6" font-size="12.3" class="cb"><tspan font-style="italic">R</tspan><tspan font-size="8.3" dx="-0.6" dy="-5.6">2</tspan><tspan dy="5.6"> = 0.01 , </tspan><tspan font-style="italic">p</tspan> = 0.43</text>
<text x="538.2" y="734.8" font-size="12.3" class="co"><tspan font-style="italic">R</tspan><tspan font-size="8.3" dx="-0.6" dy="-5.6">2</tspan><tspan dy="5.6"> = 0.045 , </tspan><tspan font-style="italic">p</tspan> = 0.16</text>
<text x="250.3" y="849.7" font-size="14.2">group</text>
<rect x="293.2" y="837" width="21.6" height="21.6" fill="#d9d9d9"/>
<line x1="295.5" x2="313.09999999999997" y1="847.6" y2="847.6" stroke="#ee8325" stroke-width="2.6"/>
<circle cx="304.2" cy="847.4" r="2.5" fill="#ee8325"/>
<text x="304.4" y="853.4" font-size="7.5" class="co" text-anchor="middle">a</text>
<text x="318.59999999999997" y="849.7" font-size="14.4">CHD</text>
<rect x="353.1" y="837" width="21.6" height="21.6" fill="#d9d9d9"/>
<line x1="355.40000000000003" x2="373.0" y1="847.6" y2="847.6" stroke="#4373b9" stroke-width="2.6"/>
<circle cx="364.1" cy="847.4" r="2.5" fill="#4373b9"/>
<text x="364.3" y="853.4" font-size="7.5" class="cb2" text-anchor="middle">a</text>
<text x="379.70000000000005" y="849.7" font-size="14.4">control</text>
<style>.cb{fill:#4f7cc0;stroke:none}.co{fill:#f0913f;stroke:none}.cb2{fill:#4373b9;stroke:none}</style>
<style>.gM{stroke:#eaeaea;stroke-width:1.2}.gm{stroke:#f2f2f2;stroke-width:1.3}</style>
</svg></body></html>
